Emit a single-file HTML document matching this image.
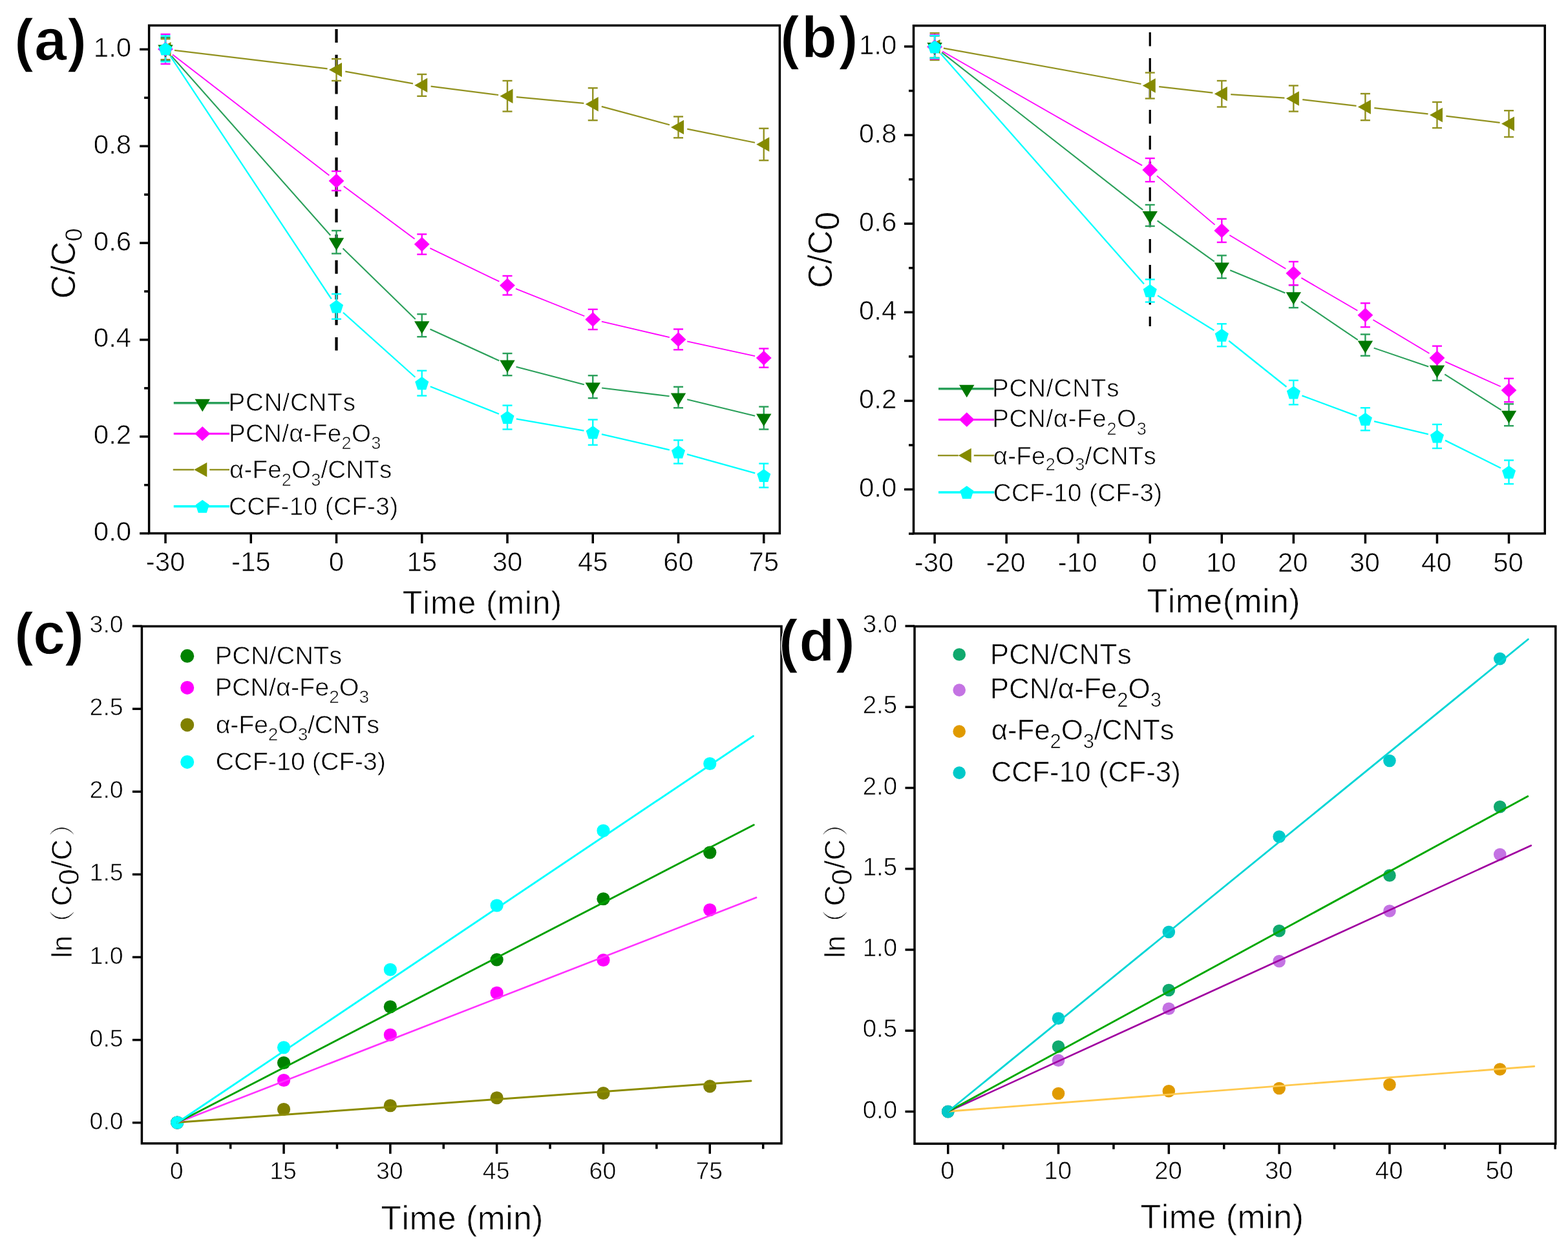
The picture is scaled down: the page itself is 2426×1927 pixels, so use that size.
<!DOCTYPE html>
<html><head><meta charset="utf-8"><title>Figure</title>
<style>html,body{margin:0;padding:0;background:#fff;}svg{display:block;}text{stroke:#fff;stroke-width:0.7px;paint-order:fill;font-kerning:none;}</style>
</head><body>
<svg width="2426" height="1927" viewBox="0 0 2426 1927">
<rect width="2426" height="1927" fill="#fff"/>
<line x1="520.5" y1="45" x2="520.5" y2="542.5" stroke="#000" stroke-width="4.2" stroke-dasharray="21 18.75"/>
<line x1="269.9" y1="77.92" x2="506.6" y2="106.43" stroke="#929220" stroke-width="2.2" />
<line x1="534.28" y1="110.58" x2="638.97" y2="129.42" stroke="#929220" stroke-width="2.2" />
<line x1="666.64" y1="133.67" x2="771.11" y2="146.98" stroke="#929220" stroke-width="2.2" />
<line x1="798.94" y1="150.07" x2="903.31" y2="159.93" stroke="#929220" stroke-width="2.2" />
<line x1="930.77" y1="164.89" x2="1035.98" y2="193.26" stroke="#929220" stroke-width="2.2" />
<line x1="1063.23" y1="199.66" x2="1168.03" y2="220.74" stroke="#929220" stroke-width="2.2" />
<line x1="265.28" y1="86.48" x2="511.22" y2="364.27" stroke="#2AA05A" stroke-width="2.1" />
<line x1="530.52" y1="384.53" x2="642.73" y2="493.97" stroke="#2AA05A" stroke-width="2.1" />
<line x1="665.49" y1="509.56" x2="772.26" y2="558.29" stroke="#2AA05A" stroke-width="2.1" />
<line x1="798.54" y1="567.65" x2="903.71" y2="595.2" stroke="#2AA05A" stroke-width="2.1" />
<line x1="931.15" y1="600.46" x2="1035.61" y2="613.29" stroke="#2AA05A" stroke-width="2.1" />
<line x1="1063.11" y1="618.29" x2="1168.15" y2="643.71" stroke="#2AA05A" stroke-width="2.1" />
<line x1="267.08" y1="84.55" x2="509.41" y2="271.45" stroke="#FF00FF" stroke-width="1.8" />
<line x1="531.74" y1="288.34" x2="641.51" y2="369.76" stroke="#FF00FF" stroke-width="1.8" />
<line x1="665.37" y1="384.17" x2="772.39" y2="435.68" stroke="#FF00FF" stroke-width="1.8" />
<line x1="798.01" y1="446.93" x2="904.24" y2="489.22" stroke="#FF00FF" stroke-width="1.8" />
<line x1="930.88" y1="497.6" x2="1035.87" y2="522.2" stroke="#FF00FF" stroke-width="1.8" />
<line x1="1063.18" y1="528.37" x2="1168.07" y2="551.13" stroke="#FF00FF" stroke-width="1.8" />
<line x1="263.74" y1="87.17" x2="512.76" y2="462.73" stroke="#00FFFF" stroke-width="2.3" />
<line x1="530.92" y1="483.75" x2="642.33" y2="583.75" stroke="#00FFFF" stroke-width="2.3" />
<line x1="665.75" y1="598.3" x2="772" y2="640.8" stroke="#00FFFF" stroke-width="2.3" />
<line x1="798.79" y1="648.41" x2="903.46" y2="666.69" stroke="#00FFFF" stroke-width="2.3" />
<line x1="930.9" y1="672.23" x2="1035.86" y2="696.27" stroke="#00FFFF" stroke-width="2.3" />
<line x1="1062.99" y1="703.13" x2="1168.26" y2="732.27" stroke="#00FFFF" stroke-width="2.3" />
<line x1="256" y1="60.25" x2="256" y2="92.25" stroke="#929220" stroke-width="2.4" />
<line x1="248.5" y1="60.25" x2="263.5" y2="60.25" stroke="#929220" stroke-width="2.4" />
<line x1="248.5" y1="92.25" x2="263.5" y2="92.25" stroke="#929220" stroke-width="2.4" />
<line x1="520.5" y1="91.2" x2="520.5" y2="125" stroke="#929220" stroke-width="2.4" />
<line x1="513" y1="91.2" x2="528" y2="91.2" stroke="#929220" stroke-width="2.4" />
<line x1="513" y1="125" x2="528" y2="125" stroke="#929220" stroke-width="2.4" />
<line x1="652.75" y1="115" x2="652.75" y2="148.8" stroke="#929220" stroke-width="2.4" />
<line x1="645.25" y1="115" x2="660.25" y2="115" stroke="#929220" stroke-width="2.4" />
<line x1="645.25" y1="148.8" x2="660.25" y2="148.8" stroke="#929220" stroke-width="2.4" />
<line x1="785" y1="125" x2="785" y2="172.5" stroke="#929220" stroke-width="2.4" />
<line x1="777.5" y1="125" x2="792.5" y2="125" stroke="#929220" stroke-width="2.4" />
<line x1="777.5" y1="172.5" x2="792.5" y2="172.5" stroke="#929220" stroke-width="2.4" />
<line x1="917.25" y1="136.25" x2="917.25" y2="186.25" stroke="#929220" stroke-width="2.4" />
<line x1="909.75" y1="136.25" x2="924.75" y2="136.25" stroke="#929220" stroke-width="2.4" />
<line x1="909.75" y1="186.25" x2="924.75" y2="186.25" stroke="#929220" stroke-width="2.4" />
<line x1="1049.5" y1="180.5" x2="1049.5" y2="213.3" stroke="#929220" stroke-width="2.4" />
<line x1="1042" y1="180.5" x2="1057" y2="180.5" stroke="#929220" stroke-width="2.4" />
<line x1="1042" y1="213.3" x2="1057" y2="213.3" stroke="#929220" stroke-width="2.4" />
<line x1="1181.75" y1="198.75" x2="1181.75" y2="248.25" stroke="#929220" stroke-width="2.4" />
<line x1="1174.25" y1="198.75" x2="1189.25" y2="198.75" stroke="#929220" stroke-width="2.4" />
<line x1="1174.25" y1="248.25" x2="1189.25" y2="248.25" stroke="#929220" stroke-width="2.4" />
<line x1="256" y1="58" x2="256" y2="94" stroke="#2AA05A" stroke-width="2.4" />
<line x1="248.5" y1="58" x2="263.5" y2="58" stroke="#2AA05A" stroke-width="2.4" />
<line x1="248.5" y1="94" x2="263.5" y2="94" stroke="#2AA05A" stroke-width="2.4" />
<line x1="520.5" y1="357" x2="520.5" y2="392.5" stroke="#2AA05A" stroke-width="2.4" />
<line x1="513" y1="357" x2="528" y2="357" stroke="#2AA05A" stroke-width="2.4" />
<line x1="513" y1="392.5" x2="528" y2="392.5" stroke="#2AA05A" stroke-width="2.4" />
<line x1="652.75" y1="486.25" x2="652.75" y2="521.25" stroke="#2AA05A" stroke-width="2.4" />
<line x1="645.25" y1="486.25" x2="660.25" y2="486.25" stroke="#2AA05A" stroke-width="2.4" />
<line x1="645.25" y1="521.25" x2="660.25" y2="521.25" stroke="#2AA05A" stroke-width="2.4" />
<line x1="785" y1="547" x2="785" y2="581.2" stroke="#2AA05A" stroke-width="2.4" />
<line x1="777.5" y1="547" x2="792.5" y2="547" stroke="#2AA05A" stroke-width="2.4" />
<line x1="777.5" y1="581.2" x2="792.5" y2="581.2" stroke="#2AA05A" stroke-width="2.4" />
<line x1="917.25" y1="581.25" x2="917.25" y2="616.25" stroke="#2AA05A" stroke-width="2.4" />
<line x1="909.75" y1="581.25" x2="924.75" y2="581.25" stroke="#2AA05A" stroke-width="2.4" />
<line x1="909.75" y1="616.25" x2="924.75" y2="616.25" stroke="#2AA05A" stroke-width="2.4" />
<line x1="1049.5" y1="598.75" x2="1049.5" y2="631.25" stroke="#2AA05A" stroke-width="2.4" />
<line x1="1042" y1="598.75" x2="1057" y2="598.75" stroke="#2AA05A" stroke-width="2.4" />
<line x1="1042" y1="631.25" x2="1057" y2="631.25" stroke="#2AA05A" stroke-width="2.4" />
<line x1="1181.75" y1="629.5" x2="1181.75" y2="664.5" stroke="#2AA05A" stroke-width="2.4" />
<line x1="1174.25" y1="629.5" x2="1189.25" y2="629.5" stroke="#2AA05A" stroke-width="2.4" />
<line x1="1174.25" y1="664.5" x2="1189.25" y2="664.5" stroke="#2AA05A" stroke-width="2.4" />
<line x1="256" y1="53" x2="256" y2="99" stroke="#FF00FF" stroke-width="2.4" />
<line x1="248.5" y1="53" x2="263.5" y2="53" stroke="#FF00FF" stroke-width="2.4" />
<line x1="248.5" y1="99" x2="263.5" y2="99" stroke="#FF00FF" stroke-width="2.4" />
<line x1="520.5" y1="265" x2="520.5" y2="295" stroke="#FF00FF" stroke-width="2.4" />
<line x1="513" y1="265" x2="528" y2="265" stroke="#FF00FF" stroke-width="2.4" />
<line x1="513" y1="295" x2="528" y2="295" stroke="#FF00FF" stroke-width="2.4" />
<line x1="652.75" y1="362.5" x2="652.75" y2="393.7" stroke="#FF00FF" stroke-width="2.4" />
<line x1="645.25" y1="362.5" x2="660.25" y2="362.5" stroke="#FF00FF" stroke-width="2.4" />
<line x1="645.25" y1="393.7" x2="660.25" y2="393.7" stroke="#FF00FF" stroke-width="2.4" />
<line x1="785" y1="427" x2="785" y2="456.5" stroke="#FF00FF" stroke-width="2.4" />
<line x1="777.5" y1="427" x2="792.5" y2="427" stroke="#FF00FF" stroke-width="2.4" />
<line x1="777.5" y1="456.5" x2="792.5" y2="456.5" stroke="#FF00FF" stroke-width="2.4" />
<line x1="917.25" y1="478.8" x2="917.25" y2="510" stroke="#FF00FF" stroke-width="2.4" />
<line x1="909.75" y1="478.8" x2="924.75" y2="478.8" stroke="#FF00FF" stroke-width="2.4" />
<line x1="909.75" y1="510" x2="924.75" y2="510" stroke="#FF00FF" stroke-width="2.4" />
<line x1="1049.5" y1="509.5" x2="1049.5" y2="541.3" stroke="#FF00FF" stroke-width="2.4" />
<line x1="1042" y1="509.5" x2="1057" y2="509.5" stroke="#FF00FF" stroke-width="2.4" />
<line x1="1042" y1="541.3" x2="1057" y2="541.3" stroke="#FF00FF" stroke-width="2.4" />
<line x1="1181.75" y1="539.5" x2="1181.75" y2="568.7" stroke="#FF00FF" stroke-width="2.4" />
<line x1="1174.25" y1="539.5" x2="1189.25" y2="539.5" stroke="#FF00FF" stroke-width="2.4" />
<line x1="1174.25" y1="568.7" x2="1189.25" y2="568.7" stroke="#FF00FF" stroke-width="2.4" />
<line x1="256" y1="55.5" x2="256" y2="95.5" stroke="#00FFFF" stroke-width="2.4" />
<line x1="248.5" y1="55.5" x2="263.5" y2="55.5" stroke="#00FFFF" stroke-width="2.4" />
<line x1="248.5" y1="95.5" x2="263.5" y2="95.5" stroke="#00FFFF" stroke-width="2.4" />
<line x1="520.5" y1="455" x2="520.5" y2="493.8" stroke="#00FFFF" stroke-width="2.4" />
<line x1="513" y1="455" x2="528" y2="455" stroke="#00FFFF" stroke-width="2.4" />
<line x1="513" y1="493.8" x2="528" y2="493.8" stroke="#00FFFF" stroke-width="2.4" />
<line x1="652.75" y1="573.7" x2="652.75" y2="612.5" stroke="#00FFFF" stroke-width="2.4" />
<line x1="645.25" y1="573.7" x2="660.25" y2="573.7" stroke="#00FFFF" stroke-width="2.4" />
<line x1="645.25" y1="612.5" x2="660.25" y2="612.5" stroke="#00FFFF" stroke-width="2.4" />
<line x1="785" y1="627.5" x2="785" y2="664.5" stroke="#00FFFF" stroke-width="2.4" />
<line x1="777.5" y1="627.5" x2="792.5" y2="627.5" stroke="#00FFFF" stroke-width="2.4" />
<line x1="777.5" y1="664.5" x2="792.5" y2="664.5" stroke="#00FFFF" stroke-width="2.4" />
<line x1="917.25" y1="649.5" x2="917.25" y2="688.7" stroke="#00FFFF" stroke-width="2.4" />
<line x1="909.75" y1="649.5" x2="924.75" y2="649.5" stroke="#00FFFF" stroke-width="2.4" />
<line x1="909.75" y1="688.7" x2="924.75" y2="688.7" stroke="#00FFFF" stroke-width="2.4" />
<line x1="1049.5" y1="681.3" x2="1049.5" y2="717.5" stroke="#00FFFF" stroke-width="2.4" />
<line x1="1042" y1="681.3" x2="1057" y2="681.3" stroke="#00FFFF" stroke-width="2.4" />
<line x1="1042" y1="717.5" x2="1057" y2="717.5" stroke="#00FFFF" stroke-width="2.4" />
<line x1="1181.75" y1="717.5" x2="1181.75" y2="754.5" stroke="#00FFFF" stroke-width="2.4" />
<line x1="1174.25" y1="717.5" x2="1189.25" y2="717.5" stroke="#00FFFF" stroke-width="2.4" />
<line x1="1174.25" y1="754.5" x2="1189.25" y2="754.5" stroke="#00FFFF" stroke-width="2.4" />
<polygon points="244.5,76.25 264.5,65.05 264.5,87.45" fill="#858A00"/>
<polygon points="509,108.1 529,96.9 529,119.3" fill="#858A00"/>
<polygon points="641.25,131.9 661.25,120.7 661.25,143.1" fill="#858A00"/>
<polygon points="773.5,148.75 793.5,137.55 793.5,159.95" fill="#858A00"/>
<polygon points="905.75,161.25 925.75,150.05 925.75,172.45" fill="#858A00"/>
<polygon points="1038,196.9 1058,185.7 1058,208.1" fill="#858A00"/>
<polygon points="1170.25,223.5 1190.25,212.3 1190.25,234.7" fill="#858A00"/>
<polygon points="244.3,69.5 267.7,69.5 256,89" fill="#007800"/>
<polygon points="508.8,368.25 532.2,368.25 520.5,387.75" fill="#007800"/>
<polygon points="641.05,497.25 664.45,497.25 652.75,516.75" fill="#007800"/>
<polygon points="773.3,557.6 796.7,557.6 785,577.1" fill="#007800"/>
<polygon points="905.55,592.25 928.95,592.25 917.25,611.75" fill="#007800"/>
<polygon points="1037.8,608.5 1061.2,608.5 1049.5,628" fill="#007800"/>
<polygon points="1170.05,640.5 1193.45,640.5 1181.75,660" fill="#007800"/>
<polygon points="256,64.7 267.9,76 256,87.3 244.1,76" fill="#FF00FF"/>
<polygon points="520.5,268.7 532.4,280 520.5,291.3 508.6,280" fill="#FF00FF"/>
<polygon points="652.75,366.8 664.65,378.1 652.75,389.4 640.85,378.1" fill="#FF00FF"/>
<polygon points="785,430.45 796.9,441.75 785,453.05 773.1,441.75" fill="#FF00FF"/>
<polygon points="917.25,483.1 929.15,494.4 917.25,505.7 905.35,494.4" fill="#FF00FF"/>
<polygon points="1049.5,514.1 1061.4,525.4 1049.5,536.7 1037.6,525.4" fill="#FF00FF"/>
<polygon points="1181.75,542.8 1193.65,554.1 1181.75,565.4 1169.85,554.1" fill="#FF00FF"/>
<polygon points="256,65.45 266.56,73.12 262.52,85.53 249.47,85.53 245.44,73.12" fill="#00FFFF"/>
<polygon points="520.5,464.35 531.06,472.02 527.02,484.43 513.98,484.43 509.94,472.02" fill="#00FFFF"/>
<polygon points="652.75,583.05 663.31,590.72 659.27,603.13 646.23,603.13 642.19,590.72" fill="#00FFFF"/>
<polygon points="785,635.95 795.56,643.62 791.53,656.03 778.48,656.03 774.44,643.62" fill="#00FFFF"/>
<polygon points="917.25,659.05 927.81,666.72 923.78,679.13 910.73,679.13 906.69,666.72" fill="#00FFFF"/>
<polygon points="1049.5,689.35 1060.06,697.02 1056.03,709.43 1042.98,709.43 1038.95,697.02" fill="#00FFFF"/>
<polygon points="1181.75,725.95 1192.31,733.62 1188.28,746.03 1175.23,746.03 1171.2,733.62" fill="#00FFFF"/>
<rect x="230.6" y="39.4" width="975.8" height="786.1" fill="none" stroke="#000" stroke-width="3.5"/>
<line x1="216.1" y1="825.6" x2="230.6" y2="825.6" stroke="#000" stroke-width="3.5" />
<line x1="216.1" y1="675.76" x2="230.6" y2="675.76" stroke="#000" stroke-width="3.5" />
<line x1="216.1" y1="525.92" x2="230.6" y2="525.92" stroke="#000" stroke-width="3.5" />
<line x1="216.1" y1="376.08" x2="230.6" y2="376.08" stroke="#000" stroke-width="3.5" />
<line x1="216.1" y1="226.24" x2="230.6" y2="226.24" stroke="#000" stroke-width="3.5" />
<line x1="216.1" y1="76.4" x2="230.6" y2="76.4" stroke="#000" stroke-width="3.5" />
<line x1="223.1" y1="750.68" x2="230.6" y2="750.68" stroke="#000" stroke-width="3.5" />
<line x1="223.1" y1="600.84" x2="230.6" y2="600.84" stroke="#000" stroke-width="3.5" />
<line x1="223.1" y1="451" x2="230.6" y2="451" stroke="#000" stroke-width="3.5" />
<line x1="223.1" y1="301.16" x2="230.6" y2="301.16" stroke="#000" stroke-width="3.5" />
<line x1="223.1" y1="151.32" x2="230.6" y2="151.32" stroke="#000" stroke-width="3.5" />
<line x1="256" y1="825.5" x2="256" y2="841" stroke="#000" stroke-width="3.5" />
<line x1="388.25" y1="825.5" x2="388.25" y2="841" stroke="#000" stroke-width="3.5" />
<line x1="520.5" y1="825.5" x2="520.5" y2="841" stroke="#000" stroke-width="3.5" />
<line x1="652.75" y1="825.5" x2="652.75" y2="841" stroke="#000" stroke-width="3.5" />
<line x1="785" y1="825.5" x2="785" y2="841" stroke="#000" stroke-width="3.5" />
<line x1="917.25" y1="825.5" x2="917.25" y2="841" stroke="#000" stroke-width="3.5" />
<line x1="1049.5" y1="825.5" x2="1049.5" y2="841" stroke="#000" stroke-width="3.5" />
<line x1="1181.75" y1="825.5" x2="1181.75" y2="841" stroke="#000" stroke-width="3.5" />
<text x="203.2" y="837.1" font-size="42" text-anchor="end" font-weight="normal" font-family="'Liberation Sans', Arial, sans-serif" >0.0</text>
<text x="203.2" y="687.26" font-size="42" text-anchor="end" font-weight="normal" font-family="'Liberation Sans', Arial, sans-serif" >0.2</text>
<text x="203.2" y="537.42" font-size="42" text-anchor="end" font-weight="normal" font-family="'Liberation Sans', Arial, sans-serif" >0.4</text>
<text x="203.2" y="387.58" font-size="42" text-anchor="end" font-weight="normal" font-family="'Liberation Sans', Arial, sans-serif" >0.6</text>
<text x="203.2" y="237.74" font-size="42" text-anchor="end" font-weight="normal" font-family="'Liberation Sans', Arial, sans-serif" >0.8</text>
<text x="203.2" y="87.9" font-size="42" text-anchor="end" font-weight="normal" font-family="'Liberation Sans', Arial, sans-serif" >1.0</text>
<text x="256" y="884.2" font-size="42" text-anchor="middle" font-weight="normal" font-family="'Liberation Sans', Arial, sans-serif" >-30</text>
<text x="388.25" y="884.2" font-size="42" text-anchor="middle" font-weight="normal" font-family="'Liberation Sans', Arial, sans-serif" >-15</text>
<text x="520.5" y="884.2" font-size="42" text-anchor="middle" font-weight="normal" font-family="'Liberation Sans', Arial, sans-serif" >0</text>
<text x="652.75" y="884.2" font-size="42" text-anchor="middle" font-weight="normal" font-family="'Liberation Sans', Arial, sans-serif" >15</text>
<text x="785" y="884.2" font-size="42" text-anchor="middle" font-weight="normal" font-family="'Liberation Sans', Arial, sans-serif" >30</text>
<text x="917.25" y="884.2" font-size="42" text-anchor="middle" font-weight="normal" font-family="'Liberation Sans', Arial, sans-serif" >45</text>
<text x="1049.5" y="884.2" font-size="42" text-anchor="middle" font-weight="normal" font-family="'Liberation Sans', Arial, sans-serif" >60</text>
<text x="1181.75" y="884.2" font-size="42" text-anchor="middle" font-weight="normal" font-family="'Liberation Sans', Arial, sans-serif" >75</text>
<line x1="268.75" y1="623.75" x2="355" y2="623.75" stroke="#2AA05A" stroke-width="3.6" />
<polygon points="301.55,617.75 324.95,617.75 313.25,637.25" fill="#007800"/>
<text x="353.5" y="635.5" font-size="38.5" text-anchor="start" font-weight="normal" font-family="'Liberation Sans', Arial, sans-serif" letter-spacing="0.86">PCN/CNTs</text>
<line x1="268.75" y1="671.25" x2="355" y2="671.25" stroke="#FF00FF" stroke-width="3.0" />
<polygon points="313.25,659.95 325.15,671.25 313.25,682.55 301.35,671.25" fill="#FF00FF"/>
<text x="353.9" y="683.5" font-size="38.5" text-anchor="start" font-weight="normal" font-family="'Liberation Sans', Arial, sans-serif" letter-spacing="0.34">PCN/α-Fe<tspan font-size="27" dy="11.9">2</tspan><tspan dy="-11.9">O</tspan><tspan font-size="27" dy="11.9">3</tspan></text>
<line x1="267.75" y1="727" x2="300.25" y2="727" stroke="#929220" stroke-width="2.4" />
<line x1="324.25" y1="727" x2="355" y2="727" stroke="#929220" stroke-width="2.4" />
<polygon points="300.25,727 320.25,715.8 320.25,738.2" fill="#858A00"/>
<text x="355.1" y="740.2" font-size="38.5" text-anchor="start" font-weight="normal" font-family="'Liberation Sans', Arial, sans-serif" letter-spacing="0.18">α-Fe<tspan font-size="27" dy="11.9">2</tspan><tspan dy="-11.9">O</tspan><tspan font-size="27" dy="11.9">3</tspan><tspan dy="-11.9">/CNTs</tspan></text>
<line x1="268.75" y1="783.75" x2="355" y2="783.75" stroke="#00FFFF" stroke-width="3.6" />
<polygon points="313.25,773.7 323.81,781.37 319.77,793.78 306.73,793.78 302.69,781.37" fill="#00FFFF"/>
<text x="354.1" y="797" font-size="38.5" text-anchor="start" font-weight="normal" font-family="'Liberation Sans', Arial, sans-serif" letter-spacing="0.44">CCF-10 (CF-3)</text>
<line x1="1779.25" y1="50" x2="1779.25" y2="505" stroke="#000" stroke-width="3.2" stroke-dasharray="21.5 18.5"/>
<line x1="1459.88" y1="74.6" x2="1765.47" y2="130" stroke="#929220" stroke-width="2.2" />
<line x1="1793.16" y1="134.1" x2="1876.39" y2="143.65" stroke="#929220" stroke-width="2.2" />
<line x1="1904.27" y1="146.16" x2="1987.38" y2="151.59" stroke="#929220" stroke-width="2.2" />
<line x1="2015.25" y1="154.14" x2="2098.5" y2="163.96" stroke="#929220" stroke-width="2.2" />
<line x1="2126.31" y1="167.15" x2="2209.54" y2="176.45" stroke="#929220" stroke-width="2.2" />
<line x1="2237.35" y1="179.7" x2="2320.6" y2="189.9" stroke="#929220" stroke-width="2.2" />
<line x1="1457.12" y1="81.13" x2="1768.23" y2="324.87" stroke="#2AA05A" stroke-width="2.1" />
<line x1="1790.63" y1="341.65" x2="1878.92" y2="404.85" stroke="#2AA05A" stroke-width="2.1" />
<line x1="1903.24" y1="418.33" x2="1988.41" y2="453.42" stroke="#2AA05A" stroke-width="2.1" />
<line x1="2012.93" y1="466.61" x2="2100.82" y2="526.24" stroke="#2AA05A" stroke-width="2.1" />
<line x1="2125.65" y1="538.62" x2="2210.2" y2="567.48" stroke="#2AA05A" stroke-width="2.1" />
<line x1="2235.28" y1="579.48" x2="2322.67" y2="634.72" stroke="#2AA05A" stroke-width="2.1" />
<line x1="1458.25" y1="79.45" x2="1767.1" y2="256.15" stroke="#FF00FF" stroke-width="1.8" />
<line x1="1789.95" y1="272.13" x2="1879.6" y2="347.87" stroke="#FF00FF" stroke-width="1.8" />
<line x1="1902.33" y1="364.07" x2="1989.32" y2="415.93" stroke="#FF00FF" stroke-width="1.8" />
<line x1="2013.45" y1="430.14" x2="2100.3" y2="480.71" stroke="#FF00FF" stroke-width="1.8" />
<line x1="2124.42" y1="494.93" x2="2211.43" y2="546.92" stroke="#FF00FF" stroke-width="1.8" />
<line x1="2236.22" y1="559.84" x2="2321.73" y2="598.26" stroke="#FF00FF" stroke-width="1.8" />
<line x1="1455.36" y1="83" x2="1769.99" y2="439.5" stroke="#00FFFF" stroke-width="2.3" />
<line x1="1791.15" y1="457.37" x2="1878.4" y2="511.38" stroke="#00FFFF" stroke-width="2.3" />
<line x1="1901.24" y1="527.49" x2="1990.41" y2="598.76" stroke="#00FFFF" stroke-width="2.3" />
<line x1="2014.47" y1="612.37" x2="2099.28" y2="643.88" stroke="#00FFFF" stroke-width="2.3" />
<line x1="2126.01" y1="652.02" x2="2209.84" y2="672.13" stroke="#00FFFF" stroke-width="2.3" />
<line x1="2235.98" y1="681.64" x2="2321.97" y2="724.46" stroke="#00FFFF" stroke-width="2.3" />
<line x1="1446.1" y1="51.2" x2="1446.1" y2="93" stroke="#929220" stroke-width="2.4" />
<line x1="1438.6" y1="51.2" x2="1453.6" y2="51.2" stroke="#929220" stroke-width="2.4" />
<line x1="1438.6" y1="93" x2="1453.6" y2="93" stroke="#929220" stroke-width="2.4" />
<line x1="1779.25" y1="112.5" x2="1779.25" y2="152.5" stroke="#929220" stroke-width="2.4" />
<line x1="1771.75" y1="112.5" x2="1786.75" y2="112.5" stroke="#929220" stroke-width="2.4" />
<line x1="1771.75" y1="152.5" x2="1786.75" y2="152.5" stroke="#929220" stroke-width="2.4" />
<line x1="1890.3" y1="125" x2="1890.3" y2="165.5" stroke="#929220" stroke-width="2.4" />
<line x1="1882.8" y1="125" x2="1897.8" y2="125" stroke="#929220" stroke-width="2.4" />
<line x1="1882.8" y1="165.5" x2="1897.8" y2="165.5" stroke="#929220" stroke-width="2.4" />
<line x1="2001.35" y1="132.5" x2="2001.35" y2="172.5" stroke="#929220" stroke-width="2.4" />
<line x1="1993.85" y1="132.5" x2="2008.85" y2="132.5" stroke="#929220" stroke-width="2.4" />
<line x1="1993.85" y1="172.5" x2="2008.85" y2="172.5" stroke="#929220" stroke-width="2.4" />
<line x1="2112.4" y1="145" x2="2112.4" y2="186.2" stroke="#929220" stroke-width="2.4" />
<line x1="2104.9" y1="145" x2="2119.9" y2="145" stroke="#929220" stroke-width="2.4" />
<line x1="2104.9" y1="186.2" x2="2119.9" y2="186.2" stroke="#929220" stroke-width="2.4" />
<line x1="2223.45" y1="158" x2="2223.45" y2="198" stroke="#929220" stroke-width="2.4" />
<line x1="2215.95" y1="158" x2="2230.95" y2="158" stroke="#929220" stroke-width="2.4" />
<line x1="2215.95" y1="198" x2="2230.95" y2="198" stroke="#929220" stroke-width="2.4" />
<line x1="2334.5" y1="171.2" x2="2334.5" y2="212" stroke="#929220" stroke-width="2.4" />
<line x1="2327" y1="171.2" x2="2342" y2="171.2" stroke="#929220" stroke-width="2.4" />
<line x1="2327" y1="212" x2="2342" y2="212" stroke="#929220" stroke-width="2.4" />
<line x1="1446.1" y1="55.5" x2="1446.1" y2="89.5" stroke="#2AA05A" stroke-width="2.4" />
<line x1="1438.6" y1="55.5" x2="1453.6" y2="55.5" stroke="#2AA05A" stroke-width="2.4" />
<line x1="1438.6" y1="89.5" x2="1453.6" y2="89.5" stroke="#2AA05A" stroke-width="2.4" />
<line x1="1779.25" y1="317" x2="1779.25" y2="350" stroke="#2AA05A" stroke-width="2.4" />
<line x1="1771.75" y1="317" x2="1786.75" y2="317" stroke="#2AA05A" stroke-width="2.4" />
<line x1="1771.75" y1="350" x2="1786.75" y2="350" stroke="#2AA05A" stroke-width="2.4" />
<line x1="1890.3" y1="395.4" x2="1890.3" y2="430.6" stroke="#2AA05A" stroke-width="2.4" />
<line x1="1882.8" y1="395.4" x2="1897.8" y2="395.4" stroke="#2AA05A" stroke-width="2.4" />
<line x1="1882.8" y1="430.6" x2="1897.8" y2="430.6" stroke="#2AA05A" stroke-width="2.4" />
<line x1="2001.35" y1="441.25" x2="2001.35" y2="476.25" stroke="#2AA05A" stroke-width="2.4" />
<line x1="1993.85" y1="441.25" x2="2008.85" y2="441.25" stroke="#2AA05A" stroke-width="2.4" />
<line x1="1993.85" y1="476.25" x2="2008.85" y2="476.25" stroke="#2AA05A" stroke-width="2.4" />
<line x1="2112.4" y1="517.5" x2="2112.4" y2="550.7" stroke="#2AA05A" stroke-width="2.4" />
<line x1="2104.9" y1="517.5" x2="2119.9" y2="517.5" stroke="#2AA05A" stroke-width="2.4" />
<line x1="2104.9" y1="550.7" x2="2119.9" y2="550.7" stroke="#2AA05A" stroke-width="2.4" />
<line x1="2223.45" y1="555" x2="2223.45" y2="589" stroke="#2AA05A" stroke-width="2.4" />
<line x1="2215.95" y1="555" x2="2230.95" y2="555" stroke="#2AA05A" stroke-width="2.4" />
<line x1="2215.95" y1="589" x2="2230.95" y2="589" stroke="#2AA05A" stroke-width="2.4" />
<line x1="2334.5" y1="625.3" x2="2334.5" y2="659.1" stroke="#2AA05A" stroke-width="2.4" />
<line x1="2327" y1="625.3" x2="2342" y2="625.3" stroke="#2AA05A" stroke-width="2.4" />
<line x1="2327" y1="659.1" x2="2342" y2="659.1" stroke="#2AA05A" stroke-width="2.4" />
<line x1="1446.1" y1="53.75" x2="1446.1" y2="91.25" stroke="#FF00FF" stroke-width="2.4" />
<line x1="1438.6" y1="53.75" x2="1453.6" y2="53.75" stroke="#FF00FF" stroke-width="2.4" />
<line x1="1438.6" y1="91.25" x2="1453.6" y2="91.25" stroke="#FF00FF" stroke-width="2.4" />
<line x1="1779.25" y1="245" x2="1779.25" y2="281.2" stroke="#FF00FF" stroke-width="2.4" />
<line x1="1771.75" y1="245" x2="1786.75" y2="245" stroke="#FF00FF" stroke-width="2.4" />
<line x1="1771.75" y1="281.2" x2="1786.75" y2="281.2" stroke="#FF00FF" stroke-width="2.4" />
<line x1="1890.3" y1="338.8" x2="1890.3" y2="375" stroke="#FF00FF" stroke-width="2.4" />
<line x1="1882.8" y1="338.8" x2="1897.8" y2="338.8" stroke="#FF00FF" stroke-width="2.4" />
<line x1="1882.8" y1="375" x2="1897.8" y2="375" stroke="#FF00FF" stroke-width="2.4" />
<line x1="2001.35" y1="405" x2="2001.35" y2="441.2" stroke="#FF00FF" stroke-width="2.4" />
<line x1="1993.85" y1="405" x2="2008.85" y2="405" stroke="#FF00FF" stroke-width="2.4" />
<line x1="1993.85" y1="441.2" x2="2008.85" y2="441.2" stroke="#FF00FF" stroke-width="2.4" />
<line x1="2112.4" y1="469.25" x2="2112.4" y2="506.25" stroke="#FF00FF" stroke-width="2.4" />
<line x1="2104.9" y1="469.25" x2="2119.9" y2="469.25" stroke="#FF00FF" stroke-width="2.4" />
<line x1="2104.9" y1="506.25" x2="2119.9" y2="506.25" stroke="#FF00FF" stroke-width="2.4" />
<line x1="2223.45" y1="535.6" x2="2223.45" y2="572.6" stroke="#FF00FF" stroke-width="2.4" />
<line x1="2215.95" y1="535.6" x2="2230.95" y2="535.6" stroke="#FF00FF" stroke-width="2.4" />
<line x1="2215.95" y1="572.6" x2="2230.95" y2="572.6" stroke="#FF00FF" stroke-width="2.4" />
<line x1="2334.5" y1="585.8" x2="2334.5" y2="622.2" stroke="#FF00FF" stroke-width="2.4" />
<line x1="2327" y1="585.8" x2="2342" y2="585.8" stroke="#FF00FF" stroke-width="2.4" />
<line x1="2327" y1="622.2" x2="2342" y2="622.2" stroke="#FF00FF" stroke-width="2.4" />
<line x1="1446.1" y1="55" x2="1446.1" y2="90" stroke="#00FFFF" stroke-width="2.4" />
<line x1="1438.6" y1="55" x2="1453.6" y2="55" stroke="#00FFFF" stroke-width="2.4" />
<line x1="1438.6" y1="90" x2="1453.6" y2="90" stroke="#00FFFF" stroke-width="2.4" />
<line x1="1779.25" y1="432.5" x2="1779.25" y2="467.5" stroke="#00FFFF" stroke-width="2.4" />
<line x1="1771.75" y1="432.5" x2="1786.75" y2="432.5" stroke="#00FFFF" stroke-width="2.4" />
<line x1="1771.75" y1="467.5" x2="1786.75" y2="467.5" stroke="#00FFFF" stroke-width="2.4" />
<line x1="1890.3" y1="501.25" x2="1890.3" y2="536.25" stroke="#00FFFF" stroke-width="2.4" />
<line x1="1882.8" y1="501.25" x2="1897.8" y2="501.25" stroke="#00FFFF" stroke-width="2.4" />
<line x1="1882.8" y1="536.25" x2="1897.8" y2="536.25" stroke="#00FFFF" stroke-width="2.4" />
<line x1="2001.35" y1="588.75" x2="2001.35" y2="626.25" stroke="#00FFFF" stroke-width="2.4" />
<line x1="1993.85" y1="588.75" x2="2008.85" y2="588.75" stroke="#00FFFF" stroke-width="2.4" />
<line x1="1993.85" y1="626.25" x2="2008.85" y2="626.25" stroke="#00FFFF" stroke-width="2.4" />
<line x1="2112.4" y1="631.25" x2="2112.4" y2="666.25" stroke="#00FFFF" stroke-width="2.4" />
<line x1="2104.9" y1="631.25" x2="2119.9" y2="631.25" stroke="#00FFFF" stroke-width="2.4" />
<line x1="2104.9" y1="666.25" x2="2119.9" y2="666.25" stroke="#00FFFF" stroke-width="2.4" />
<line x1="2223.45" y1="656.9" x2="2223.45" y2="693.9" stroke="#00FFFF" stroke-width="2.4" />
<line x1="2215.95" y1="656.9" x2="2230.95" y2="656.9" stroke="#00FFFF" stroke-width="2.4" />
<line x1="2215.95" y1="693.9" x2="2230.95" y2="693.9" stroke="#00FFFF" stroke-width="2.4" />
<line x1="2334.5" y1="712.4" x2="2334.5" y2="749" stroke="#00FFFF" stroke-width="2.4" />
<line x1="2327" y1="712.4" x2="2342" y2="712.4" stroke="#00FFFF" stroke-width="2.4" />
<line x1="2327" y1="749" x2="2342" y2="749" stroke="#00FFFF" stroke-width="2.4" />
<polygon points="1434.6,72.1 1454.6,60.9 1454.6,83.3" fill="#858A00"/>
<polygon points="1767.75,132.5 1787.75,121.3 1787.75,143.7" fill="#858A00"/>
<polygon points="1878.8,145.25 1898.8,134.05 1898.8,156.45" fill="#858A00"/>
<polygon points="1989.85,152.5 2009.85,141.3 2009.85,163.7" fill="#858A00"/>
<polygon points="2100.9,165.6 2120.9,154.4 2120.9,176.8" fill="#858A00"/>
<polygon points="2211.95,178 2231.95,166.8 2231.95,189.2" fill="#858A00"/>
<polygon points="2323,191.6 2343,180.4 2343,202.8" fill="#858A00"/>
<polygon points="1434.4,66 1457.8,66 1446.1,85.5" fill="#007800"/>
<polygon points="1767.55,327 1790.95,327 1779.25,346.5" fill="#007800"/>
<polygon points="1878.6,406.5 1902,406.5 1890.3,426" fill="#007800"/>
<polygon points="1989.65,452.25 2013.05,452.25 2001.35,471.75" fill="#007800"/>
<polygon points="2100.7,527.6 2124.1,527.6 2112.4,547.1" fill="#007800"/>
<polygon points="2211.75,565.5 2235.15,565.5 2223.45,585" fill="#007800"/>
<polygon points="2322.8,635.7 2346.2,635.7 2334.5,655.2" fill="#007800"/>
<polygon points="1446.1,61.2 1458,72.5 1446.1,83.8 1434.2,72.5" fill="#FF00FF"/>
<polygon points="1779.25,251.8 1791.15,263.1 1779.25,274.4 1767.35,263.1" fill="#FF00FF"/>
<polygon points="1890.3,345.6 1902.2,356.9 1890.3,368.2 1878.4,356.9" fill="#FF00FF"/>
<polygon points="2001.35,411.8 2013.25,423.1 2001.35,434.4 1989.45,423.1" fill="#FF00FF"/>
<polygon points="2112.4,476.45 2124.3,487.75 2112.4,499.05 2100.5,487.75" fill="#FF00FF"/>
<polygon points="2223.45,542.8 2235.35,554.1 2223.45,565.4 2211.55,554.1" fill="#FF00FF"/>
<polygon points="2334.5,592.7 2346.4,604 2334.5,615.3 2322.6,604" fill="#FF00FF"/>
<polygon points="1446.1,62.45 1456.66,70.12 1452.62,82.53 1439.58,82.53 1435.54,70.12" fill="#00FFFF"/>
<polygon points="1779.25,439.95 1789.81,447.62 1785.77,460.03 1772.73,460.03 1768.69,447.62" fill="#00FFFF"/>
<polygon points="1890.3,508.7 1900.86,516.37 1896.82,528.78 1883.78,528.78 1879.74,516.37" fill="#00FFFF"/>
<polygon points="2001.35,597.45 2011.91,605.12 2007.87,617.53 1994.83,617.53 1990.79,605.12" fill="#00FFFF"/>
<polygon points="2112.4,638.7 2122.96,646.37 2118.92,658.78 2105.88,658.78 2101.84,646.37" fill="#00FFFF"/>
<polygon points="2223.45,665.35 2234.01,673.02 2229.97,685.43 2216.93,685.43 2212.89,673.02" fill="#00FFFF"/>
<polygon points="2334.5,720.65 2345.06,728.32 2341.02,740.73 2327.98,740.73 2323.94,728.32" fill="#00FFFF"/>
<rect x="1413.5" y="39.75" width="976.7" height="786.05" fill="none" stroke="#000" stroke-width="3.5"/>
<line x1="1399" y1="757.5" x2="1413.5" y2="757.5" stroke="#000" stroke-width="3.5" />
<line x1="1399" y1="620.4" x2="1413.5" y2="620.4" stroke="#000" stroke-width="3.5" />
<line x1="1399" y1="483.3" x2="1413.5" y2="483.3" stroke="#000" stroke-width="3.5" />
<line x1="1399" y1="346.2" x2="1413.5" y2="346.2" stroke="#000" stroke-width="3.5" />
<line x1="1399" y1="209.1" x2="1413.5" y2="209.1" stroke="#000" stroke-width="3.5" />
<line x1="1399" y1="72" x2="1413.5" y2="72" stroke="#000" stroke-width="3.5" />
<line x1="1406" y1="826.05" x2="1413.5" y2="826.05" stroke="#000" stroke-width="3.5" />
<line x1="1406" y1="688.95" x2="1413.5" y2="688.95" stroke="#000" stroke-width="3.5" />
<line x1="1406" y1="551.85" x2="1413.5" y2="551.85" stroke="#000" stroke-width="3.5" />
<line x1="1406" y1="414.75" x2="1413.5" y2="414.75" stroke="#000" stroke-width="3.5" />
<line x1="1406" y1="277.65" x2="1413.5" y2="277.65" stroke="#000" stroke-width="3.5" />
<line x1="1406" y1="140.55" x2="1413.5" y2="140.55" stroke="#000" stroke-width="3.5" />
<line x1="1446.1" y1="825.8" x2="1446.1" y2="841.3" stroke="#000" stroke-width="3.5" />
<line x1="1557.15" y1="825.8" x2="1557.15" y2="841.3" stroke="#000" stroke-width="3.5" />
<line x1="1668.2" y1="825.8" x2="1668.2" y2="841.3" stroke="#000" stroke-width="3.5" />
<line x1="1779.25" y1="825.8" x2="1779.25" y2="841.3" stroke="#000" stroke-width="3.5" />
<line x1="1890.3" y1="825.8" x2="1890.3" y2="841.3" stroke="#000" stroke-width="3.5" />
<line x1="2001.35" y1="825.8" x2="2001.35" y2="841.3" stroke="#000" stroke-width="3.5" />
<line x1="2112.4" y1="825.8" x2="2112.4" y2="841.3" stroke="#000" stroke-width="3.5" />
<line x1="2223.45" y1="825.8" x2="2223.45" y2="841.3" stroke="#000" stroke-width="3.5" />
<line x1="2334.5" y1="825.8" x2="2334.5" y2="841.3" stroke="#000" stroke-width="3.5" />
<text x="1387.3" y="769" font-size="42" text-anchor="end" font-weight="normal" font-family="'Liberation Sans', Arial, sans-serif" >0.0</text>
<text x="1387.3" y="631.9" font-size="42" text-anchor="end" font-weight="normal" font-family="'Liberation Sans', Arial, sans-serif" >0.2</text>
<text x="1387.3" y="494.8" font-size="42" text-anchor="end" font-weight="normal" font-family="'Liberation Sans', Arial, sans-serif" >0.4</text>
<text x="1387.3" y="357.7" font-size="42" text-anchor="end" font-weight="normal" font-family="'Liberation Sans', Arial, sans-serif" >0.6</text>
<text x="1387.3" y="220.6" font-size="42" text-anchor="end" font-weight="normal" font-family="'Liberation Sans', Arial, sans-serif" >0.8</text>
<text x="1387.3" y="83.5" font-size="42" text-anchor="end" font-weight="normal" font-family="'Liberation Sans', Arial, sans-serif" >1.0</text>
<text x="1445.1" y="884.5" font-size="42" text-anchor="middle" font-weight="normal" font-family="'Liberation Sans', Arial, sans-serif" >-30</text>
<text x="1556.15" y="884.5" font-size="42" text-anchor="middle" font-weight="normal" font-family="'Liberation Sans', Arial, sans-serif" >-20</text>
<text x="1667.2" y="884.5" font-size="42" text-anchor="middle" font-weight="normal" font-family="'Liberation Sans', Arial, sans-serif" >-10</text>
<text x="1778.25" y="884.5" font-size="42" text-anchor="middle" font-weight="normal" font-family="'Liberation Sans', Arial, sans-serif" >0</text>
<text x="1889.3" y="884.5" font-size="42" text-anchor="middle" font-weight="normal" font-family="'Liberation Sans', Arial, sans-serif" >10</text>
<text x="2000.35" y="884.5" font-size="42" text-anchor="middle" font-weight="normal" font-family="'Liberation Sans', Arial, sans-serif" >20</text>
<text x="2111.4" y="884.5" font-size="42" text-anchor="middle" font-weight="normal" font-family="'Liberation Sans', Arial, sans-serif" >30</text>
<text x="2222.45" y="884.5" font-size="42" text-anchor="middle" font-weight="normal" font-family="'Liberation Sans', Arial, sans-serif" >40</text>
<text x="2333.5" y="884.5" font-size="42" text-anchor="middle" font-weight="normal" font-family="'Liberation Sans', Arial, sans-serif" >50</text>
<line x1="1452" y1="601.75" x2="1538.75" y2="601.75" stroke="#2AA05A" stroke-width="3.6" />
<polygon points="1484.05,595.75 1507.45,595.75 1495.75,615.25" fill="#007800"/>
<text x="1534.9" y="613.75" font-size="38.5" text-anchor="start" font-weight="normal" font-family="'Liberation Sans', Arial, sans-serif" letter-spacing="0.89">PCN/CNTs</text>
<line x1="1452" y1="649.5" x2="1538.75" y2="649.5" stroke="#FF00FF" stroke-width="3.0" />
<polygon points="1495.75,638.2 1507.65,649.5 1495.75,660.8 1483.85,649.5" fill="#FF00FF"/>
<text x="1535.2" y="661.4" font-size="38.5" text-anchor="start" font-weight="normal" font-family="'Liberation Sans', Arial, sans-serif" letter-spacing="0.65">PCN/α-Fe<tspan font-size="27" dy="11.9">2</tspan><tspan dy="-11.9">O</tspan><tspan font-size="27" dy="11.9">3</tspan></text>
<line x1="1451" y1="705" x2="1482.75" y2="705" stroke="#929220" stroke-width="2.4" />
<line x1="1506.75" y1="705" x2="1538.75" y2="705" stroke="#929220" stroke-width="2.4" />
<polygon points="1482.75,705 1502.75,693.8 1502.75,716.2" fill="#858A00"/>
<text x="1536.7" y="718.75" font-size="38.5" text-anchor="start" font-weight="normal" font-family="'Liberation Sans', Arial, sans-serif" letter-spacing="0.27">α-Fe<tspan font-size="27" dy="9.3">2</tspan><tspan dy="-9.3">O</tspan><tspan font-size="27" dy="9.3">3</tspan><tspan dy="-9.3">/CNTs</tspan></text>
<line x1="1452" y1="762" x2="1538.75" y2="762" stroke="#00FFFF" stroke-width="3.6" />
<polygon points="1495.75,751.95 1506.31,759.62 1502.27,772.03 1489.23,772.03 1485.19,759.62" fill="#00FFFF"/>
<text x="1536.7" y="775.8" font-size="38.5" text-anchor="start" font-weight="normal" font-family="'Liberation Sans', Arial, sans-serif" letter-spacing="0.4">CCF-10 (CF-3)</text>
<circle cx="274.25" cy="1737.5" r="10.1" fill="#808000"/>
<circle cx="439.06" cy="1717" r="10.1" fill="#808000"/>
<circle cx="603.86" cy="1711.25" r="10.1" fill="#808000"/>
<circle cx="768.66" cy="1699.25" r="10.1" fill="#808000"/>
<circle cx="933.47" cy="1692" r="10.1" fill="#808000"/>
<circle cx="1098.28" cy="1681.4" r="10.1" fill="#808000"/>
<circle cx="274.25" cy="1737.5" r="10.1" fill="#FF00FF"/>
<circle cx="439.06" cy="1672" r="10.1" fill="#FF00FF"/>
<circle cx="603.86" cy="1601.75" r="10.1" fill="#FF00FF"/>
<circle cx="768.66" cy="1536.75" r="10.1" fill="#FF00FF"/>
<circle cx="933.47" cy="1486" r="10.1" fill="#FF00FF"/>
<circle cx="1098.28" cy="1408.25" r="10.1" fill="#FF00FF"/>
<circle cx="274.25" cy="1737.5" r="10.1" fill="#008200"/>
<circle cx="439.06" cy="1645" r="10.1" fill="#008200"/>
<circle cx="603.86" cy="1558.25" r="10.1" fill="#008200"/>
<circle cx="768.66" cy="1485.4" r="10.1" fill="#008200"/>
<circle cx="933.47" cy="1391.25" r="10.1" fill="#008200"/>
<circle cx="1098.28" cy="1319.5" r="10.1" fill="#008200"/>
<circle cx="274.25" cy="1737.5" r="10.1" fill="#00FFFF"/>
<circle cx="439.06" cy="1621.25" r="10.1" fill="#00FFFF"/>
<circle cx="603.86" cy="1500.75" r="10.1" fill="#00FFFF"/>
<circle cx="768.66" cy="1401.5" r="10.1" fill="#00FFFF"/>
<circle cx="933.47" cy="1285.75" r="10.1" fill="#00FFFF"/>
<circle cx="1098.28" cy="1182" r="10.1" fill="#00FFFF"/>
<line x1="274.5" y1="1737.2" x2="1161.9" y2="1673.05" stroke="#8C8C00" stroke-width="3.0" stroke-linecap="round"/>
<line x1="274.5" y1="1737.5" x2="1170" y2="1389.25" stroke="#FF33FF" stroke-width="2.7" stroke-linecap="round"/>
<line x1="274.5" y1="1737.5" x2="1166.25" y2="1276.75" stroke="#00A000" stroke-width="2.9" stroke-linecap="round"/>
<line x1="274.5" y1="1737.5" x2="1165.5" y2="1139.25" stroke="#00FFFF" stroke-width="2.9" stroke-linecap="round"/>
<rect x="219.4" y="969.4" width="989.6" height="800.4" fill="none" stroke="#000" stroke-width="3.5"/>
<line x1="204.9" y1="1737.7" x2="219.4" y2="1737.7" stroke="#000" stroke-width="3.5" />
<line x1="204.9" y1="1609.6" x2="219.4" y2="1609.6" stroke="#000" stroke-width="3.5" />
<line x1="204.9" y1="1481.5" x2="219.4" y2="1481.5" stroke="#000" stroke-width="3.5" />
<line x1="204.9" y1="1353.4" x2="219.4" y2="1353.4" stroke="#000" stroke-width="3.5" />
<line x1="204.9" y1="1225.3" x2="219.4" y2="1225.3" stroke="#000" stroke-width="3.5" />
<line x1="204.9" y1="1097.2" x2="219.4" y2="1097.2" stroke="#000" stroke-width="3.5" />
<line x1="204.9" y1="969.1" x2="219.4" y2="969.1" stroke="#000" stroke-width="3.5" />
<line x1="274.25" y1="1769.8" x2="274.25" y2="1785.8" stroke="#000" stroke-width="3.5" />
<line x1="439.06" y1="1769.8" x2="439.06" y2="1785.8" stroke="#000" stroke-width="3.5" />
<line x1="603.86" y1="1769.8" x2="603.86" y2="1785.8" stroke="#000" stroke-width="3.5" />
<line x1="768.66" y1="1769.8" x2="768.66" y2="1785.8" stroke="#000" stroke-width="3.5" />
<line x1="933.47" y1="1769.8" x2="933.47" y2="1785.8" stroke="#000" stroke-width="3.5" />
<line x1="1098.28" y1="1769.8" x2="1098.28" y2="1785.8" stroke="#000" stroke-width="3.5" />
<line x1="356.65" y1="1769.8" x2="356.65" y2="1778.3" stroke="#000" stroke-width="3.5" />
<line x1="521.46" y1="1769.8" x2="521.46" y2="1778.3" stroke="#000" stroke-width="3.5" />
<line x1="686.26" y1="1769.8" x2="686.26" y2="1778.3" stroke="#000" stroke-width="3.5" />
<line x1="851.07" y1="1769.8" x2="851.07" y2="1778.3" stroke="#000" stroke-width="3.5" />
<line x1="1015.87" y1="1769.8" x2="1015.87" y2="1778.3" stroke="#000" stroke-width="3.5" />
<line x1="1180.68" y1="1769.8" x2="1180.68" y2="1778.3" stroke="#000" stroke-width="3.5" />
<text x="190.7" y="1747.7" font-size="37.5" text-anchor="end" font-weight="normal" font-family="'Liberation Sans', Arial, sans-serif" >0.0</text>
<text x="190.7" y="1619.6" font-size="37.5" text-anchor="end" font-weight="normal" font-family="'Liberation Sans', Arial, sans-serif" >0.5</text>
<text x="190.7" y="1491.5" font-size="37.5" text-anchor="end" font-weight="normal" font-family="'Liberation Sans', Arial, sans-serif" >1.0</text>
<text x="190.7" y="1363.4" font-size="37.5" text-anchor="end" font-weight="normal" font-family="'Liberation Sans', Arial, sans-serif" >1.5</text>
<text x="190.7" y="1235.3" font-size="37.5" text-anchor="end" font-weight="normal" font-family="'Liberation Sans', Arial, sans-serif" >2.0</text>
<text x="190.7" y="1107.2" font-size="37.5" text-anchor="end" font-weight="normal" font-family="'Liberation Sans', Arial, sans-serif" >2.5</text>
<text x="190.7" y="979.1" font-size="37.5" text-anchor="end" font-weight="normal" font-family="'Liberation Sans', Arial, sans-serif" >3.0</text>
<text x="273.25" y="1825" font-size="37.5" text-anchor="middle" font-weight="normal" font-family="'Liberation Sans', Arial, sans-serif" >0</text>
<text x="438.06" y="1825" font-size="37.5" text-anchor="middle" font-weight="normal" font-family="'Liberation Sans', Arial, sans-serif" >15</text>
<text x="602.86" y="1825" font-size="37.5" text-anchor="middle" font-weight="normal" font-family="'Liberation Sans', Arial, sans-serif" >30</text>
<text x="767.66" y="1825" font-size="37.5" text-anchor="middle" font-weight="normal" font-family="'Liberation Sans', Arial, sans-serif" >45</text>
<text x="932.47" y="1825" font-size="37.5" text-anchor="middle" font-weight="normal" font-family="'Liberation Sans', Arial, sans-serif" >60</text>
<text x="1097.28" y="1825" font-size="37.5" text-anchor="middle" font-weight="normal" font-family="'Liberation Sans', Arial, sans-serif" >75</text>
<circle cx="289.7" cy="1015.3" r="10.5" fill="#008200"/>
<text x="332.7" y="1028.2" font-size="39.5" text-anchor="start" font-weight="normal" font-family="'Liberation Sans', Arial, sans-serif" letter-spacing="0.16">PCN/CNTs</text>
<circle cx="289.7" cy="1064.4" r="10.5" fill="#FF00FF"/>
<text x="332.7" y="1076.5" font-size="39.5" text-anchor="start" font-weight="normal" font-family="'Liberation Sans', Arial, sans-serif" letter-spacing="0">PCN/α-Fe<tspan font-size="28" dy="11">2</tspan><tspan dy="-11">O</tspan><tspan font-size="28" dy="11">3</tspan></text>
<circle cx="289.7" cy="1121.9" r="10.5" fill="#808000"/>
<text x="333.7" y="1134.9" font-size="39.5" text-anchor="start" font-weight="normal" font-family="'Liberation Sans', Arial, sans-serif" letter-spacing="-0.23">α-Fe<tspan font-size="28" dy="11">2</tspan><tspan dy="-11">O</tspan><tspan font-size="28" dy="11">3</tspan><tspan dy="-11">/CNTs</tspan></text>
<circle cx="289.7" cy="1179.4" r="10.5" fill="#00FFFF"/>
<text x="333.6" y="1191.5" font-size="39.5" text-anchor="start" font-weight="normal" font-family="'Liberation Sans', Arial, sans-serif" letter-spacing="0">CCF-10 (CF-3)</text>
<circle cx="1466.75" cy="1720.5" r="9.8" fill="#E09A00"/>
<circle cx="1637.55" cy="1692.5" r="9.8" fill="#E09A00"/>
<circle cx="1808.35" cy="1688.75" r="9.8" fill="#E09A00"/>
<circle cx="1979.15" cy="1684.5" r="9.8" fill="#E09A00"/>
<circle cx="2149.95" cy="1678.75" r="9.8" fill="#E09A00"/>
<circle cx="2320.75" cy="1655" r="9.8" fill="#E09A00"/>
<circle cx="1466.75" cy="1720.5" r="9.8" fill="#C473E3"/>
<circle cx="1637.55" cy="1641.25" r="9.8" fill="#C473E3"/>
<circle cx="1808.35" cy="1561.25" r="9.8" fill="#C473E3"/>
<circle cx="1979.15" cy="1487.7" r="9.8" fill="#C473E3"/>
<circle cx="2149.95" cy="1410" r="9.8" fill="#C473E3"/>
<circle cx="2320.75" cy="1322.5" r="9.8" fill="#C473E3"/>
<circle cx="1466.75" cy="1720.5" r="9.8" fill="#10A96E"/>
<circle cx="1637.55" cy="1620" r="9.8" fill="#10A96E"/>
<circle cx="1808.35" cy="1532.5" r="9.8" fill="#10A96E"/>
<circle cx="1979.15" cy="1440.7" r="9.8" fill="#10A96E"/>
<circle cx="2149.95" cy="1355" r="9.8" fill="#10A96E"/>
<circle cx="2320.75" cy="1248.75" r="9.8" fill="#10A96E"/>
<circle cx="1466.75" cy="1720.5" r="9.8" fill="#00C9C9"/>
<circle cx="1637.55" cy="1576.25" r="9.8" fill="#00C9C9"/>
<circle cx="1808.35" cy="1442.5" r="9.8" fill="#00C9C9"/>
<circle cx="1979.15" cy="1295" r="9.8" fill="#00C9C9"/>
<circle cx="2149.95" cy="1177.5" r="9.8" fill="#00C9C9"/>
<circle cx="2320.75" cy="1019.6" r="9.8" fill="#00C9C9"/>
<line x1="1466.75" y1="1720.3" x2="2373.75" y2="1650.5" stroke="#FFC94F" stroke-width="2.9" stroke-linecap="round"/>
<line x1="1466.75" y1="1720.5" x2="2368.75" y2="1308.75" stroke="#A000A0" stroke-width="2.7" stroke-linecap="round"/>
<line x1="1466.75" y1="1720.5" x2="2363.75" y2="1232.5" stroke="#00A800" stroke-width="2.9" stroke-linecap="round"/>
<line x1="1466.75" y1="1720.5" x2="2364.3" y2="989.5" stroke="#00D6D6" stroke-width="2.8" stroke-linecap="round"/>
<rect x="1415" y="969.5" width="991.8" height="800.7" fill="none" stroke="#000" stroke-width="3.5"/>
<line x1="1400.5" y1="1720.5" x2="1415" y2="1720.5" stroke="#000" stroke-width="3.5" />
<line x1="1400.5" y1="1595.25" x2="1415" y2="1595.25" stroke="#000" stroke-width="3.5" />
<line x1="1400.5" y1="1470" x2="1415" y2="1470" stroke="#000" stroke-width="3.5" />
<line x1="1400.5" y1="1344.75" x2="1415" y2="1344.75" stroke="#000" stroke-width="3.5" />
<line x1="1400.5" y1="1219.5" x2="1415" y2="1219.5" stroke="#000" stroke-width="3.5" />
<line x1="1400.5" y1="1094.25" x2="1415" y2="1094.25" stroke="#000" stroke-width="3.5" />
<line x1="1400.5" y1="969" x2="1415" y2="969" stroke="#000" stroke-width="3.5" />
<line x1="1466.75" y1="1770.2" x2="1466.75" y2="1786.2" stroke="#000" stroke-width="3.5" />
<line x1="1637.55" y1="1770.2" x2="1637.55" y2="1786.2" stroke="#000" stroke-width="3.5" />
<line x1="1808.35" y1="1770.2" x2="1808.35" y2="1786.2" stroke="#000" stroke-width="3.5" />
<line x1="1979.15" y1="1770.2" x2="1979.15" y2="1786.2" stroke="#000" stroke-width="3.5" />
<line x1="2149.95" y1="1770.2" x2="2149.95" y2="1786.2" stroke="#000" stroke-width="3.5" />
<line x1="2320.75" y1="1770.2" x2="2320.75" y2="1786.2" stroke="#000" stroke-width="3.5" />
<line x1="1552.15" y1="1770.2" x2="1552.15" y2="1778.7" stroke="#000" stroke-width="3.5" />
<line x1="1722.95" y1="1770.2" x2="1722.95" y2="1778.7" stroke="#000" stroke-width="3.5" />
<line x1="1893.75" y1="1770.2" x2="1893.75" y2="1778.7" stroke="#000" stroke-width="3.5" />
<line x1="2064.55" y1="1770.2" x2="2064.55" y2="1778.7" stroke="#000" stroke-width="3.5" />
<line x1="2235.35" y1="1770.2" x2="2235.35" y2="1778.7" stroke="#000" stroke-width="3.5" />
<line x1="2406.15" y1="1770.2" x2="2406.15" y2="1778.7" stroke="#000" stroke-width="3.5" />
<text x="1388.2" y="1730.5" font-size="38.5" text-anchor="end" font-weight="normal" font-family="'Liberation Sans', Arial, sans-serif" >0.0</text>
<text x="1388.2" y="1605.25" font-size="38.5" text-anchor="end" font-weight="normal" font-family="'Liberation Sans', Arial, sans-serif" >0.5</text>
<text x="1388.2" y="1480" font-size="38.5" text-anchor="end" font-weight="normal" font-family="'Liberation Sans', Arial, sans-serif" >1.0</text>
<text x="1388.2" y="1354.75" font-size="38.5" text-anchor="end" font-weight="normal" font-family="'Liberation Sans', Arial, sans-serif" >1.5</text>
<text x="1388.2" y="1229.5" font-size="38.5" text-anchor="end" font-weight="normal" font-family="'Liberation Sans', Arial, sans-serif" >2.0</text>
<text x="1388.2" y="1104.25" font-size="38.5" text-anchor="end" font-weight="normal" font-family="'Liberation Sans', Arial, sans-serif" >2.5</text>
<text x="1388.2" y="979" font-size="38.5" text-anchor="end" font-weight="normal" font-family="'Liberation Sans', Arial, sans-serif" >3.0</text>
<text x="1465.95" y="1825" font-size="38.5" text-anchor="middle" font-weight="normal" font-family="'Liberation Sans', Arial, sans-serif" >0</text>
<text x="1636.75" y="1825" font-size="38.5" text-anchor="middle" font-weight="normal" font-family="'Liberation Sans', Arial, sans-serif" >10</text>
<text x="1807.55" y="1825" font-size="38.5" text-anchor="middle" font-weight="normal" font-family="'Liberation Sans', Arial, sans-serif" >20</text>
<text x="1978.35" y="1825" font-size="38.5" text-anchor="middle" font-weight="normal" font-family="'Liberation Sans', Arial, sans-serif" >30</text>
<text x="2149.15" y="1825" font-size="38.5" text-anchor="middle" font-weight="normal" font-family="'Liberation Sans', Arial, sans-serif" >40</text>
<text x="2319.95" y="1825" font-size="38.5" text-anchor="middle" font-weight="normal" font-family="'Liberation Sans', Arial, sans-serif" >50</text>
<circle cx="1484.2" cy="1013" r="9.8" fill="#10A96E"/>
<text x="1531.7" y="1028.2" font-size="44" text-anchor="start" font-weight="normal" font-family="'Liberation Sans', Arial, sans-serif" letter-spacing="0.2">PCN/CNTs</text>
<circle cx="1484.2" cy="1068.1" r="9.8" fill="#C473E3"/>
<text x="1531.7" y="1081.1" font-size="44" text-anchor="start" font-weight="normal" font-family="'Liberation Sans', Arial, sans-serif" letter-spacing="0">PCN/α-Fe<tspan font-size="31" dy="12.5">2</tspan><tspan dy="-12.5">O</tspan><tspan font-size="31" dy="12.5">3</tspan></text>
<circle cx="1484.2" cy="1132.1" r="9.8" fill="#E09A00"/>
<text x="1533.7" y="1145.1" font-size="44" text-anchor="start" font-weight="normal" font-family="'Liberation Sans', Arial, sans-serif" letter-spacing="-0.15">α-Fe<tspan font-size="31" dy="12.5">2</tspan><tspan dy="-12.5">O</tspan><tspan font-size="31" dy="12.5">3</tspan><tspan dy="-12.5">/CNTs</tspan></text>
<circle cx="1484.2" cy="1196.1" r="9.8" fill="#00C9C9"/>
<text x="1533.6" y="1210" font-size="44" text-anchor="start" font-weight="normal" font-family="'Liberation Sans', Arial, sans-serif" letter-spacing="0">CCF-10 (CF-3)</text>
<text x="21.9" y="93" font-size="90.5" text-anchor="start" font-weight="bold" font-family="'Liberation Sans', Arial, sans-serif" letter-spacing="0.85" style="stroke-width:1.5px">(a)</text>
<text x="1207" y="89.45" font-size="90.5" text-anchor="start" font-weight="bold" font-family="'Liberation Sans', Arial, sans-serif" letter-spacing="2.5" style="stroke-width:1.5px">(b)</text>
<text x="22" y="1011.5" font-size="90.5" text-anchor="start" font-weight="bold" font-family="'Liberation Sans', Arial, sans-serif" letter-spacing="-1.25" style="stroke-width:1.5px">(c)</text>
<text x="1204.8" y="1022.7" font-size="90.5" text-anchor="start" font-weight="bold" font-family="'Liberation Sans', Arial, sans-serif" letter-spacing="1.25" style="stroke-width:1.5px">(d)</text>
<text x="622.75" y="950" font-size="50" text-anchor="start" font-weight="normal" font-family="'Liberation Sans', Arial, sans-serif" letter-spacing="0.83">Time (min)</text>
<text x="1774.6" y="947.5" font-size="52" text-anchor="start" font-weight="normal" font-family="'Liberation Sans', Arial, sans-serif" letter-spacing="0.37">Time(min)</text>
<text x="589.6" y="1902.5" font-size="51.5" text-anchor="start" font-weight="normal" font-family="'Liberation Sans', Arial, sans-serif" letter-spacing="0.54">Time (min)</text>
<text x="1764.6" y="1901.3" font-size="52" text-anchor="start" font-weight="normal" font-family="'Liberation Sans', Arial, sans-serif" letter-spacing="0.44">Time (min)</text>
<text transform="translate(116.4,462.5) rotate(-90)" font-size="51.5" font-family="'Liberation Sans', Arial, sans-serif">C/C<tspan font-size="37" dy="10.3">0</tspan></text>
<text transform="translate(1286.7,446.1) rotate(-90)" font-size="52" font-family="'Liberation Sans', Arial, sans-serif">C/C<tspan font-size="52" dy="10.9">0</tspan></text>
<text transform="translate(110.7,1482.9) rotate(-90)" font-size="45" font-family="'Liberation Sans', 'Noto Serif CJK SC', serif"><tspan x="0">ln</tspan><tspan x="34.2" font-size="40">（</tspan><tspan x="80.3">C</tspan><tspan x="113" dy="11.4">0</tspan><tspan x="138.7" dy="-11.4">/</tspan><tspan x="151.4">C</tspan><tspan x="188.3" font-size="40">）</tspan></text>
<text transform="translate(1307,1482.9) rotate(-90)" font-size="45" font-family="'Liberation Sans', 'Noto Serif CJK SC', serif"><tspan x="0">ln</tspan><tspan x="34.2" font-size="40">（</tspan><tspan x="80.3">C</tspan><tspan x="113" dy="11.4">0</tspan><tspan x="138.7" dy="-11.4">/</tspan><tspan x="151.4">C</tspan><tspan x="188.3" font-size="40">）</tspan></text>
</svg>
</body></html>
